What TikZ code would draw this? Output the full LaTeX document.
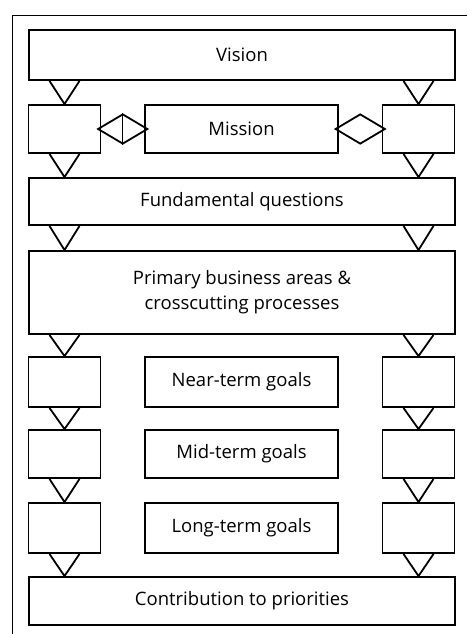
\documentclass[tikz,border=0pt]{standalone}
\usepackage{fontspec}
\setmainfont{Open Sans}
\usetikzlibrary{shapes.geometric,calc}

\begin{document}
\begin{tikzpicture}[x=1pt,y=1pt,font=\fontsize{18.5}{25}\selectfont,
  box/.style={draw,line width=1.9pt,minimum height=48pt,inner sep=0pt,align=center},
  wide/.style={box,minimum width=426pt},
  side/.style={box,minimum width=72pt},
  goal/.style={box,minimum width=193pt},
  link/.style={draw,diamond,line width=1.8pt,minimum width=50pt,minimum height=30pt,inner sep=0pt},
  drop/.style={line width=1.8pt,line join=miter}]
\useasboundingbox (0,0) rectangle (467,-634);
\draw[line width=0.8pt] (12,-634) -- (12,-15) -- (467,-15);
\coordinate (colL) at (64.5,0);
\coordinate (colR) at (418.5,0);
% rows
\node[wide,minimum height=50pt] (vis) at (242,-55) {Vision};
\node[side] (missL) at (64.5,-129) {};
\node[goal] (miss) at (241.5,-129) {Mission};
\node[side] (missR) at (418.5,-129) {};
\node[wide,minimum height=47pt] (fq) at (242,-201.5) {Fundamental questions};
\node[wide,minimum height=83pt] (pba) at (242,-292.5) {Primary business areas \&\\crosscutting processes};
\node[side,minimum height=50pt] (nearL) at (64.5,-382) {};
\node[goal,minimum height=50pt] (near) at (241.5,-382) {Near-term goals};
\node[side,minimum height=50pt] (nearR) at (418.5,-382) {};
\node[side] (midL) at (64.5,-454) {};
\node[goal] (mid) at (241.5,-454) {Mid-term goals};
\node[side] (midR) at (418.5,-454) {};
\node[side,minimum height=50pt] (longL) at (64.5,-528) {};
\node[goal,minimum height=50pt] (long) at (241.5,-528) {Long-term goals};
\node[side,minimum height=50pt] (longR) at (418.5,-528) {};
\node[wide] (contr) at (242,-601) {Contribution to priorities};
% diamonds
\node[link] (dl) at ($(missL.east)!0.5!(miss.west)$) {};
\draw[line width=1.4pt] (dl.north) -- (dl.south);
\node[link] (dr) at ($(miss.east)!0.5!(missR.west)$) {};
% triangles
\foreach \up/\dn in {vis/miss,miss/fq,fq/pba,pba/near,near/mid,mid/long,long/contr}
  \foreach \c in {colL,colR}
    \draw[drop] ($(\up.south -| \c)+(-15,0)$) -- (\dn.north -| \c) -- ($(\up.south -| \c)+(15,0)$);
\end{tikzpicture}
\end{document}
